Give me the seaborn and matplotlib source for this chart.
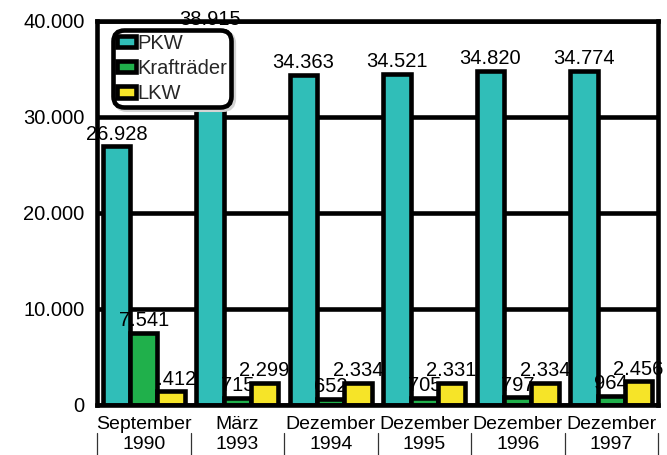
import matplotlib
matplotlib.use("Agg")
import matplotlib.pyplot as plt
from matplotlib.ticker import FuncFormatter
import seaborn as sns
import pandas as pd

categories = ["September\n1990", "März\n1993", "Dezember\n1994", "Dezember\n1995", "Dezember\n1996", "Dezember\n1997"]
series_names = ["PKW", "Krafträder", "LKW"]
pkw = [26928, 38915, 34363, 34521, 34820, 34774]
kraft = [7541, 715, 652, 705, 797, 964]
lkw = [1412, 2299, 2334, 2331, 2334, 2456]
colors = ["#30BEB8", "#20B04B", "#F6E428"]
yticks = [0, 10000, 20000, 30000, 40000]

rows = []
for name, vals in zip(series_names, [pkw, kraft, lkw]):
    for c, v in zip(categories, vals):
        rows.append({"Zeitpunkt": c, "Typ": name, "Wert": v})
df = pd.DataFrame(rows)

sns.set_theme(style="white")
plt.rcParams["font.family"] = ["Liberation Sans", "DejaVu Sans"]
FS = 14.5
FSX = 14
LW = 3.3

def de_fmt(v, pos=None):
    return f"{v:,.0f}".replace(",", ".")

fig = plt.figure(figsize=(6.67, 4.55), dpi=100)
ax = fig.add_axes([97 / 667, 1 - 405 / 455, (658 - 97) / 667, (405 - 21) / 455])

sns.barplot(data=df, x="Zeitpunkt", y="Wert", hue="Typ", hue_order=series_names,
            order=categories, palette=colors, saturation=1, width=0.88,
            edgecolor="black", linewidth=LW, ax=ax, errorbar=None)

ax.set_xlim(-0.5, len(categories) - 0.5)
ax.set_ylim(0, 40000)
ax.set_yticks(yticks)
ax.yaxis.set_major_formatter(FuncFormatter(de_fmt))
ax.set_xlabel("")
ax.set_ylabel("")
ax.tick_params(axis="both", length=0, colors="black")
ax.tick_params(axis="y", pad=9, labelsize=FS)
ax.tick_params(axis="x", pad=8, labelsize=FSX)
for lab in ax.get_xticklabels():
    lab.set_linespacing(1.2)

ax.set_axisbelow(True)
ax.yaxis.grid(True, color="black", linewidth=LW)
ax.xaxis.grid(False)
for side in ["left", "right", "top", "bottom"]:
    ax.spines[side].set_visible(True)
    ax.spines[side].set_color("black")
    ax.spines[side].set_linewidth(LW)
    ax.spines[side].set_zorder(3.5)

for i, cont in enumerate(ax.containers):
    for p in cont.patches:
        p.set_zorder(3 if i == 0 else 3.2)
    texts = ax.bar_label(cont, labels=[de_fmt(v) for v in cont.datavalues],
                         padding=2, fontsize=FS, color="black")
    for t in texts:
        t.set_zorder(3.1)
        t.set_clip_on(False)

# category separators below the axis
for b in range(len(categories) + 1):
    ax.plot([b - 0.5, b - 0.5], [-0.072, -0.135], color="#333333", linewidth=0.9,
            transform=ax.get_xaxis_transform(), clip_on=False)

handles, labels = ax.get_legend_handles_labels()
leg = ax.legend(handles, labels, loc="upper left", bbox_to_anchor=(0.0285, 0.977),
                borderaxespad=0, frameon=True, fancybox=True, framealpha=1,
                edgecolor="black", facecolor="white", fontsize=FS,
                handlelength=0.95, handleheight=0.5, handletextpad=0.05,
                borderpad=0.2, labelspacing=0.3,
                shadow={"facecolor": "#d4d4d4", "edgecolor": "#d4d4d4", "alpha": 1})
leg.get_frame().set_linewidth(LW)
leg.get_frame().set_boxstyle("round,pad=0,rounding_size=0.55")
leg.set_zorder(6)

fig.savefig("out.png", dpi=100)
